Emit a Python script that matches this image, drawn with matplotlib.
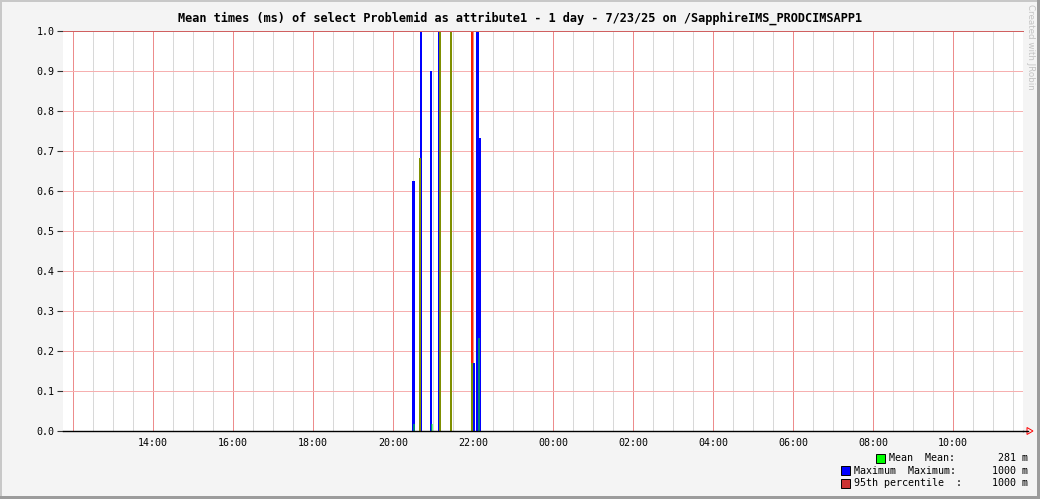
import matplotlib
matplotlib.use("Agg")
import matplotlib.pyplot as plt
from matplotlib.patches import Rectangle, Polygon
from matplotlib.lines import Line2D

W, H = 1040, 499

title = "Mean times (ms) of select Problemid as attribute1 - 1 day - 7/23/25 on /SapphireIMS_PRODCIMSAPP1"

# spikes (clock time, value in s)
max_times = ["20:31", "20:42", "20:57", "21:09", "22:01", "22:07", "22:10"]
max_values = [0.625, 1.0, 0.9, 1.0, 0.17, 1.0, 0.733]
mean_times = ["20:32", "20:40", "20:58", "21:10", "21:27", "21:59", "22:09"]
mean_values = [0.017, 0.683, 0.017, 1.0, 1.0, 0.17, 0.232]
p95_times = ["20:40", "21:10", "21:27", "21:59"]
p95_values = [0.683, 1.0, 1.0, 1.0]
p95_level = 1.0

x_start, x_end = 11.75, 35.75
major_hours = list(range(12, 36, 2))
minor_hours = [12 + 0.5 * i for i in range(48)]
y_ticks = [i / 10 for i in range(11)]

legend_labels = ["Mean  Mean:", "Maximum  Maximum:", "95th percentile  :"]
legend_values = ["281 m", "1000 m", "1000 m"]
legend_colors = ["#00ff00", "#0000ff", "#cc3333"]


def to_hours(s):
    h, m = s.split(":")
    t = int(h) + int(m) / 60
    if t < 12:
        t += 24
    return t


def hour_label(h):
    if h == 12:
        return ""
    return "%02d:00" % (h % 24)


def fx(px):
    return px / W


def fy(py):
    return 1 - py / H


mono = "DejaVu Sans Mono"
px_h = (x_end - x_start) / 960.0  # hours per pixel
one_px = 0.7

fig = plt.figure(figsize=(W / 100, H / 100), dpi=100, facecolor="#f4f4f4")
ax = fig.add_axes([fx(63), fy(431), 960 / W, 400 / H])
ax.set_facecolor("white")
ax.set_xlim(x_start, x_end)
ax.set_ylim(0, 1)

# grid
for h in minor_hours:
    if h not in major_hours and x_start < h < x_end:
        ax.axvline(h, color="#d8d8d8", lw=one_px, zorder=1, antialiased=False)
for h in major_hours:
    ax.axvline(h, color="#ec8c8c", lw=one_px, zorder=2, antialiased=False)
for v in y_ticks[1:]:
    ax.axhline(v, color="#f6b0b0", lw=one_px, zorder=2, antialiased=False)

# series
ax.bar([to_hours(t) for t in max_times], max_values, width=2.6 * px_h,
       color="#0000ff", linewidth=0, zorder=3, antialiased=False)
ax.bar([to_hours(t) for t in p95_times], p95_values, width=1.8 * px_h,
       color="#ff2000", linewidth=0, zorder=4, antialiased=False)
ax.bar([to_hours(t) for t in mean_times], mean_values, width=1.8 * px_h,
       color="#00ff00", linewidth=0, alpha=0.5, zorder=5, antialiased=False)
ax.axhline(p95_level, color="#d06060", lw=one_px, zorder=6, clip_on=False,
           antialiased=False)

ax.set_xticks(major_hours)
ax.set_xticklabels([hour_label(h) for h in major_hours], family=mono, fontsize=7.2)
ax.set_yticks(y_ticks)
ax.set_yticklabels(["%.1f" % v for v in y_ticks], family=mono, fontsize=7.2)
ax.tick_params(axis="x", length=0, pad=5)
ax.tick_params(axis="y", length=4, width=0.8, pad=2, color="#333333")
for side in ["top", "right", "left"]:
    ax.spines[side].set_visible(False)
ax.spines["bottom"].set_linewidth(1.0)
ax.spines["bottom"].set_zorder(7)

# axis extension with arrow
fig.add_artist(Line2D([fx(1023), fx(1028)], [fy(431), fy(431)], color="black", lw=1.0))
fig.add_artist(Polygon([[fx(1027), fy(427.5)], [fx(1033), fy(431)], [fx(1027), fy(434.5)]],
                       closed=True, facecolor="none", edgecolor="#ff0000", lw=0.7))

fig.text(0.5, fy(18), title, ha="center", va="center", family=mono,
         fontsize=8.6, fontweight="bold")
fig.text(fx(1031), fy(4), "Created with JRobin", rotation=-90, ha="center", va="top",
         fontsize=6.3, color="#c4c4c4")

# legend
rows_y = [458, 470.5, 483]
label_x = [889, 854, 854]
for lab, val, col, y, lx in zip(legend_labels, legend_values, legend_colors, rows_y, label_x):
    fig.add_artist(Rectangle((fx(lx - 13), fy(y + 4.5)), 9 / W, 9 / H,
                             facecolor=col, edgecolor="black", lw=0.7))
    fig.text(fx(lx), fy(y), lab, ha="left", va="center", family=mono, fontsize=7.2)
    fig.text(fx(1028), fy(y), val, ha="right", va="center", family=mono, fontsize=7.2)

# frame
fig.add_artist(Rectangle((0, 0), fx(1.5), 1, facecolor="#c8c8c8", lw=0))
fig.add_artist(Rectangle((0, fy(1.5)), 1, 1.5 / H, facecolor="#c8c8c8", lw=0))
fig.add_artist(Rectangle((fx(1037), 0), 3 / W, 1, facecolor="#9c9c9c", lw=0))
fig.add_artist(Rectangle((0, 0), 1, 3 / H, facecolor="#9c9c9c", lw=0))

fig.savefig("out.png", dpi=100, facecolor=fig.get_facecolor())
